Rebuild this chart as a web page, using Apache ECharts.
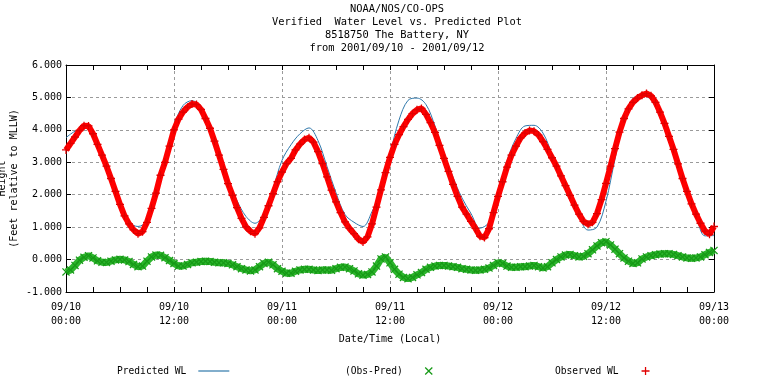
<!DOCTYPE html>
<html>
<head>
<meta charset="utf-8">
<script src="https://cdn.jsdelivr.net/npm/echarts@6/dist/echarts.min.js"></script>
<style>html,body{margin:0;padding:0;background:#fff}#c{width:768px;height:384px}</style>
</head>
<body>
<div id="c"></div>
<script>
// Observed water level, every 30 min from 09/10 00:00 (ft rel. MLLW)
const observedWL = [3.38,3.58,3.78,3.98,4.13,4.12,3.88,3.55,3.22,2.88,
2.50,2.10,1.70,1.35,1.10,0.92,0.80,0.86,1.15,1.58,
2.05,2.60,3.00,3.50,4.00,4.33,4.55,4.70,4.80,4.78,
4.63,4.35,4.05,3.65,3.22,2.78,2.34,1.98,1.60,1.27,
1.01,0.87,0.80,0.98,1.30,1.66,2.03,2.40,2.70,2.96,
3.12,3.38,3.56,3.70,3.76,3.62,3.33,2.96,2.55,2.14,
1.78,1.45,1.16,0.96,0.80,0.63,0.54,0.70,1.10,1.62,
2.15,2.68,3.15,3.55,3.85,4.10,4.32,4.50,4.62,4.66,
4.48,4.22,3.92,3.52,3.12,2.72,2.32,1.95,1.62,1.40,
1.18,0.96,0.72,0.68,0.95,1.45,1.95,2.40,2.85,3.22,
3.50,3.75,3.90,3.98,3.96,3.84,3.64,3.40,3.14,2.88,
2.58,2.28,1.98,1.68,1.40,1.18,1.09,1.15,1.42,1.85,
2.35,2.88,3.42,3.93,4.35,4.65,4.85,4.98,5.07,5.12,
5.05,4.85,4.55,4.20,3.80,3.40,2.95,2.50,2.10,1.72,
1.40,1.12,0.88,0.78,1.02];
// Obs - Pred, every 30 min
const obsMinusPred = [-0.38,-0.32,-0.18,-0.02,0.07,0.12,0.05,-0.04,-0.08,-0.09,
-0.05,-0.01,0.01,-0.01,-0.06,-0.15,-0.22,-0.20,-0.05,0.08,
0.14,0.13,0.06,-0.03,-0.12,-0.20,-0.20,-0.15,-0.10,-0.08,
-0.06,-0.05,-0.06,-0.08,-0.10,-0.10,-0.12,-0.16,-0.22,-0.28,
-0.32,-0.35,-0.32,-0.22,-0.12,-0.08,-0.16,-0.28,-0.36,-0.42,
-0.42,-0.36,-0.32,-0.30,-0.30,-0.32,-0.34,-0.32,-0.32,-0.33,
-0.28,-0.24,-0.23,-0.28,-0.35,-0.44,-0.48,-0.46,-0.38,-0.20,
0.02,0.08,-0.10,-0.30,-0.45,-0.55,-0.59,-0.55,-0.47,-0.40,
-0.30,-0.24,-0.20,-0.18,-0.18,-0.20,-0.22,-0.24,-0.28,-0.30,
-0.32,-0.33,-0.32,-0.30,-0.26,-0.18,-0.10,-0.12,-0.20,-0.24,
-0.24,-0.22,-0.22,-0.20,-0.18,-0.22,-0.26,-0.22,-0.10,0.00,
0.08,0.14,0.16,0.12,0.08,0.10,0.18,0.30,0.42,0.52,
0.55,0.45,0.32,0.18,0.05,-0.05,-0.12,-0.10,0.02,0.08,
0.12,0.15,0.17,0.18,0.18,0.16,0.12,0.08,0.05,0.04,
0.05,0.08,0.15,0.22,0.28];
// Predicted water level, hourly
const predictedWL = [3.76,3.96,4.06,3.83,3.30,2.55,1.69,1.16,1.02,1.20,
1.91,2.94,4.12,4.75,4.90,4.69,4.11,3.32,2.46,1.82,
1.33,1.12,1.42,2.19,3.06,3.54,3.88,4.06,3.67,2.87,
2.06,1.39,1.15,1.02,1.48,2.13,3.25,4.30,4.91,4.98,
4.78,4.12,3.30,2.54,1.90,1.42,0.97,1.15,2.05,3.05,
3.74,4.12,4.14,3.90,3.24,2.50,1.82,1.32,0.91,1.00,
1.80,3.10,4.30,4.97,5.05,4.93,4.38,3.62,2.83,2.05,
1.35,0.73,0.74];
const tickDates = ['09/10','09/10','09/11','09/11','09/12','09/12','09/13'];
const tickTimes = ['00:00','12:00','00:00','12:00','00:00','12:00','00:00'];
const titleLines = ['NOAA/NOS/CO-OPS','Verified  Water Level vs. Predicted Plot','8518750 The Battery, NY','from 2001/09/10 - 2001/09/12'];

const FONT = '"DejaVu Sans Mono", "Liberation Mono", monospace';
const plusPath = 'path://M4.2,0H5.8V10H4.2ZM0,4.2H10V5.8H0Z';
const crossPath = 'path://M0,1.1L1.1,0L5,3.9L8.9,0L10,1.1L6.1,5L10,8.9L8.9,10L5,6.1L1.1,10L0,8.9L3.9,5Z';
const obsData = observedWL.map((v, i) => [i * 0.5, v]);
const resData = obsMinusPred.map((v, i) => [i * 0.5, v]);
const predData = predictedWL.map((v, i) => [i, v]);

const chart = echarts.init(document.getElementById('c'), null, {renderer: 'canvas'});
const dashed = {show: true, lineStyle: {color: '#9a9a9a', type: [3, 3], width: 1}};
const legendText = (pad) => ({fontFamily: FONT, fontSize: 9.6, color: '#000', padding: [0, pad, 0, 0]});
chart.setOption({
  animation: false,
  backgroundColor: '#fff',
  title: {
    text: titleLines.join('\n'), left: 392, top: -2, textAlign: 'center',
    textStyle: {fontFamily: FONT, fontSize: 10.4, fontWeight: 'normal', color: '#000', lineHeight: 13}
  },
  legend: [
    {data: [{name: 'Predicted WL', icon: 'rect'}], left: 117, top: 366, padding: 0, align: 'right', itemWidth: 31, itemHeight: 1.2,
     textStyle: legendText(7)},
    {data: [{name: '(Obs-Pred)', icon: crossPath}], left: 345, top: 366, padding: 0, align: 'right', itemWidth: 8, itemHeight: 8,
     textStyle: legendText(17)},
    {data: [{name: 'Observed WL', icon: plusPath}], left: 555, top: 366, padding: 0, align: 'right', itemWidth: 8, itemHeight: 8,
     textStyle: legendText(18)}
  ],
  grid: {left: 66, right: 54, top: 65, bottom: 92, containLabel: false, outerBoundsMode: 'none'},
  xAxis: [{
    type: 'value', min: 0, max: 72, interval: 12,
    axisLine: {onZero: false, lineStyle: {color: '#000', width: 1}},
    axisTick: {inside: true, length: 5, lineStyle: {color: '#000'}},
    minorTick: {show: true, splitNumber: 4, length: 5, lineStyle: {color: '#000'}},
    splitLine: dashed,
    axisLabel: {fontFamily: FONT, fontSize: 10, color: '#000', lineHeight: 14, margin: 8,
      formatter: v => tickDates[v / 12] + '\n' + tickTimes[v / 12]},
    name: 'Date/Time (Local)', nameLocation: 'middle', nameGap: 42, nameMoveOverlap: false,
    nameTextStyle: {fontFamily: FONT, fontSize: 10, color: '#000'}
  }, {
    type: 'value', position: 'top', min: 0, max: 72, interval: 12,
    axisLine: {onZero: false, lineStyle: {color: '#000', width: 1}},
    axisTick: {inside: true, length: 5, lineStyle: {color: '#000'}},
    minorTick: {show: true, splitNumber: 4, length: 5, lineStyle: {color: '#000'}},
    axisLabel: {show: false}, splitLine: {show: false}
  }],
  yAxis: [{
    type: 'value', min: -1, max: 6, interval: 1,
    axisLine: {show: true, onZero: false, lineStyle: {color: '#000', width: 1}},
    axisTick: {show: true, inside: true, length: 5, lineStyle: {color: '#000'}},
    splitLine: dashed,
    axisLabel: {fontFamily: FONT, fontSize: 10, color: '#000', margin: 4, formatter: v => v.toFixed(3)},
    name: 'Height\n(Feet relative to MLLW)', nameLocation: 'middle', nameGap: 46, nameRotate: 90, nameMoveOverlap: false,
    nameTextStyle: {fontFamily: FONT, fontSize: 10, color: '#000', lineHeight: 12}
  }, {
    type: 'value', position: 'right', min: -1, max: 6, interval: 1,
    axisLine: {show: true, onZero: false, lineStyle: {color: '#000', width: 1}},
    axisTick: {show: true, inside: true, length: 5, lineStyle: {color: '#000'}},
    axisLabel: {show: false}, splitLine: {show: false}
  }],
  series: [
    {name: 'Predicted WL', type: 'line', data: predData, smooth: 0.35, showSymbol: false, z: 2,
     itemStyle: {color: '#2f78ab'}, lineStyle: {color: '#2f78ab', width: 1}},
    {name: '(Obs-Pred)', type: 'line', data: resData, symbol: crossPath, symbolSize: 8,
     showAllSymbol: true, z: 3, itemStyle: {color: '#179a17'}, lineStyle: {color: '#2cb52c', width: 7}},
    {name: 'Observed WL', type: 'line', data: obsData, symbol: plusPath, symbolSize: 8,
     showAllSymbol: true, z: 4, itemStyle: {color: '#e00000'}, lineStyle: {color: '#ff0000', width: 6}}
  ]
});
</script>
</body>
</html>
